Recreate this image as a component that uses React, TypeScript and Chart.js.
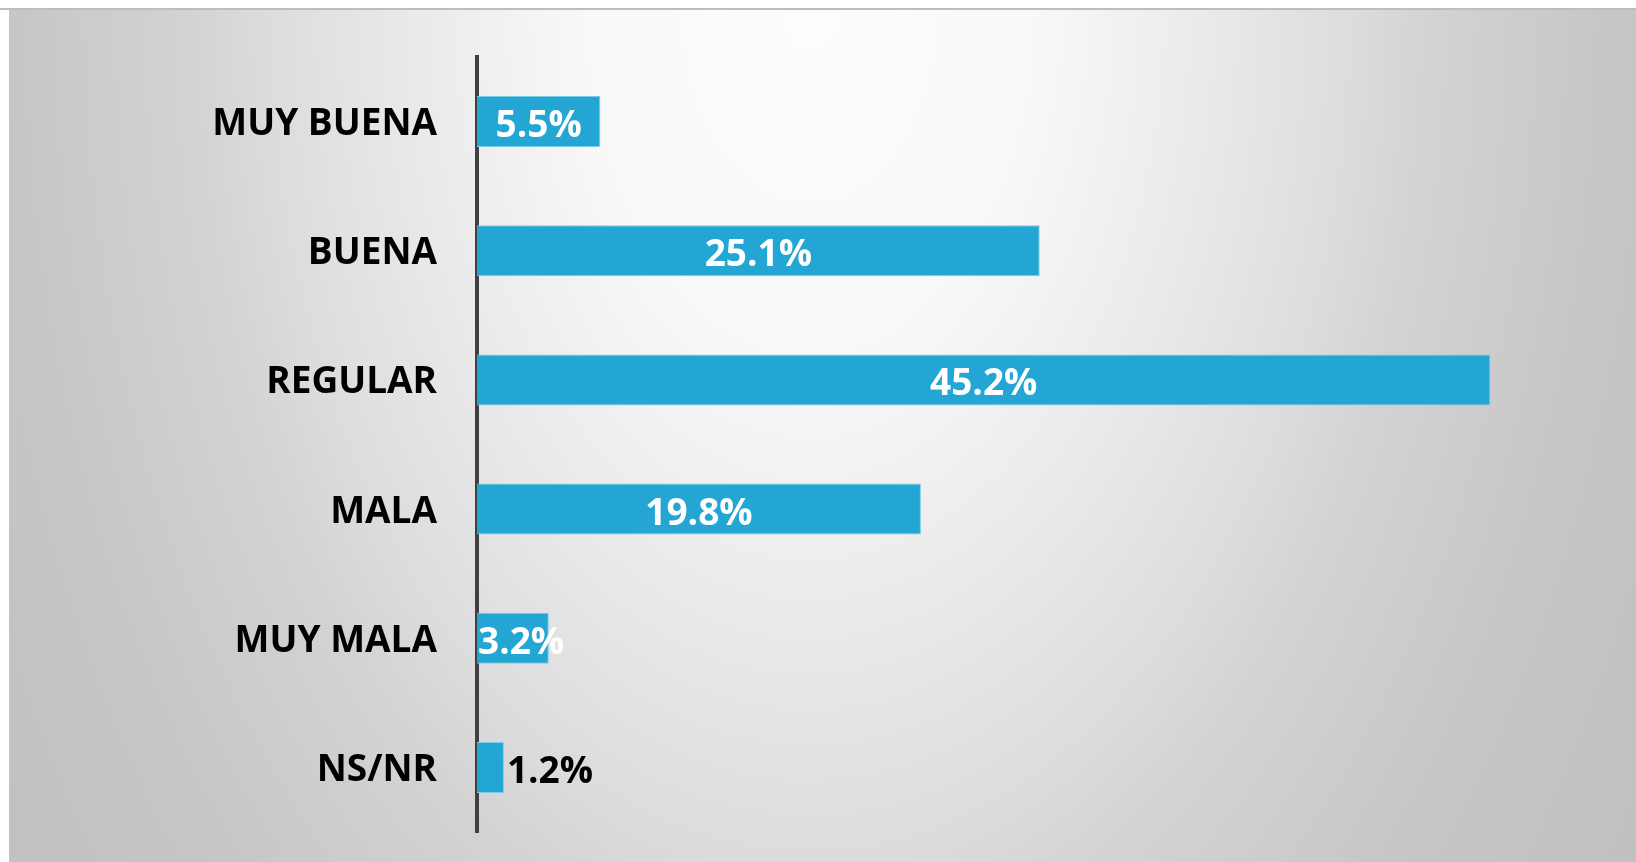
import React, { useEffect, useRef } from 'react';
import { Chart, registerables } from 'chart.js';

Chart.register(...registerables);

const categories = ['MUY BUENA', 'BUENA', 'REGULAR', 'MALA', 'MUY MALA', 'NS/NR'];
const values = [5.5, 25.1, 45.2, 19.8, 3.2, 1.2];
const valueLabels = ['5.5%', '25.1%', '45.2%', '19.8%', '3.2%', '1.2%'];

const FONT = '"Open Sans", "Noto Sans", sans-serif';

const backgroundPlugin = {
  id: 'panelBackground',
  beforeDraw(chart: any) {
    const ctx = chart.ctx as CanvasRenderingContext2D;
    const w = chart.width;
    const h = chart.height;
    ctx.save();
    ctx.fillStyle = '#ffffff';
    ctx.fillRect(0, 0, w, h);
    ctx.save();
    ctx.beginPath();
    ctx.rect(9, 10, w - 9, h - 10);
    ctx.clip();
    ctx.translate(810, 0);
    ctx.scale(1, 1.574);
    const g = ctx.createRadialGradient(0, 0, 0, 0, 0, 991);
    g.addColorStop(0, '#fdfdfd');
    g.addColorStop(0.23, '#f8f8f8');
    g.addColorStop(0.4, '#eaeaea');
    g.addColorStop(0.55, '#dcdcdc');
    g.addColorStop(0.625, '#d3d3d3');
    g.addColorStop(0.81, '#c6c6c6');
    g.addColorStop(1, '#c0c0c0');
    ctx.fillStyle = g;
    ctx.fillRect(-1000, 0, 2000, 700);
    ctx.restore();
    ctx.fillStyle = '#bdbdbd';
    ctx.fillRect(0, 8, w, 2);
    ctx.restore();
  },
};

const valueLabelPlugin = {
  id: 'valueLabels',
  afterDatasetsDraw(chart: any) {
    const ctx = chart.ctx as CanvasRenderingContext2D;
    const meta = chart.getDatasetMeta(0);
    ctx.save();
    ctx.font = `bold 37px ${FONT}`;
    ctx.textBaseline = 'middle';
    meta.data.forEach((bar: any, i: number) => {
      const { x, y, base } = bar.getProps(['x', 'y', 'base'], true);
      const width = x - base;
      const text = valueLabels[i];
      const tw = ctx.measureText(text).width;
      if (width < 40) {
        ctx.fillStyle = '#000000';
        ctx.textAlign = 'left';
        ctx.fillText(text, x + 3, y + 5);
      } else {
        ctx.fillStyle = '#ffffff';
        ctx.textAlign = 'left';
        const left = Math.max((x + base) / 2 - tw / 2, base + 1);
        ctx.fillText(text, left, y + 5);
      }
    });
    ctx.restore();
  },
};

export default function App() {
  const canvasRef = useRef<HTMLCanvasElement | null>(null);

  useEffect(() => {
    if (!canvasRef.current) return;
    const chart = new Chart(canvasRef.current, {
      type: 'bar',
      data: {
        labels: categories,
        datasets: [
          {
            data: values,
            backgroundColor: '#23a6d4',
            borderColor: '#7ccbe8',
            borderWidth: 1,
            barPercentage: 0.395,
            categoryPercentage: 1,
          },
        ],
      },
      options: {
        indexAxis: 'y',
        responsive: false,
        animation: false,
        layout: { padding: { left: 0, right: 38, top: 57, bottom: 30 } },
        plugins: {
          legend: { display: false },
          tooltip: { enabled: false },
        },
        scales: {
          x: { display: false, min: 0, max: 50 },
          y: {
            z: 1,
            grid: { display: false, drawTicks: false },
            border: { display: true, color: '#404040', width: 4 },
            ticks: {
              color: '#000000',
              padding: 40,
              labelOffset: 3,
              font: { family: FONT, weight: 'bold', size: 37 },
            },
            afterFit: (scale: any) => {
              scale.width = 477;
              scale.paddingTop = 0;
              scale.paddingBottom = 0;
            },
          },
        },
      },
      plugins: [backgroundPlugin, valueLabelPlugin],
    } as any);
    return () => chart.destroy();
  }, []);

  return (
    <div style={{ position: 'absolute', left: 0, top: 0, width: 1636, height: 862 }}>
      <canvas ref={canvasRef} width={1636} height={862} style={{ display: 'block' }} />
    </div>
  );
}
